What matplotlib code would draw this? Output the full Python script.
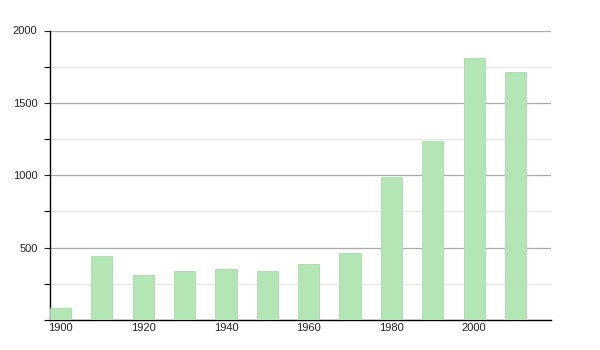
import matplotlib
matplotlib.use("Agg")
import matplotlib.pyplot as plt
from matplotlib.ticker import MultipleLocator

plt.rcParams['font.family'] = ['Liberation Sans', 'DejaVu Sans']

years = [1900, 1910, 1920, 1930, 1940, 1950, 1960, 1970, 1980, 1990, 2000, 2010]
values = [83, 443, 314, 339, 351, 339, 390, 461, 990, 1239, 1813, 1716]
xtick_years = [1900, 1920, 1940, 1960, 1980, 2000]
ytick_major = [500, 1000, 1500, 2000]

fig = plt.figure(figsize=(6, 3.5), dpi=100)
ax = fig.add_axes([50/600, 1-320/350, 501/600, 289.5/350])

ax.bar(years, values, width=5.1, color="#b4e5b4", edgecolor="#abdcab", linewidth=0.6, zorder=3)
ax.set_xlim(1897.45, 2018.6)
ax.set_ylim(0, 2000)

ax.set_yticks(ytick_major)
ax.yaxis.set_minor_locator(MultipleLocator(250))
ax.set_xticks(xtick_years)
ax.tick_params(axis="x", length=0, labelsize=8, pad=2, colors="#222222")
ax.tick_params(axis="y", which="major", length=4, width=0.8, labelsize=8, pad=5, colors="#222222")
ax.tick_params(axis="y", which="minor", length=4, width=0.8)

ax.grid(axis="y", which="major", color="#aaaaaa", linewidth=0.9, zorder=1)
ax.grid(axis="y", which="minor", color="#e6e6e6", linewidth=0.9, zorder=1)

for s in ["top", "right"]:
    ax.spines[s].set_visible(False)
ax.spines["left"].set_linewidth(1.0)
ax.spines["bottom"].set_linewidth(1.0)

fig.savefig("out.png", dpi=100)
